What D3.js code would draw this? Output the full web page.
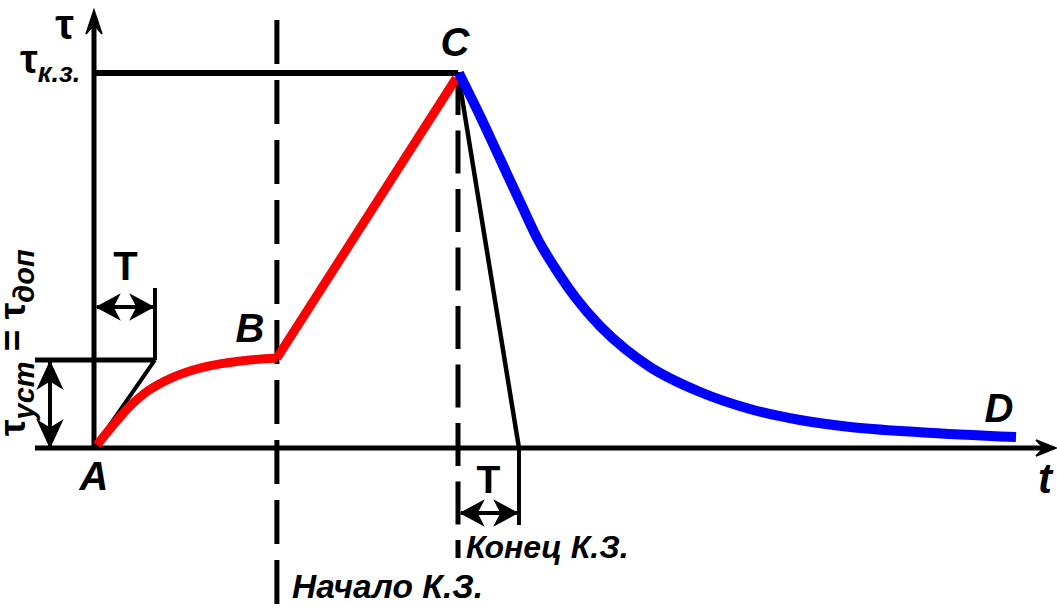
<!DOCTYPE html>
<html>
<head>
<meta charset="utf-8">
<script src="https://cdn.jsdelivr.net/npm/d3@7"></script>
<style>
  html, body { margin: 0; padding: 0; background: #fff; }
  svg { display: block; }
  text { font-family: "Liberation Sans", Arial, sans-serif; fill: #000; }
</style>
</head>
<body>
<svg id="chart" width="1057" height="613"></svg>
<script>
// Temperature of a conductor τ versus time t: steady heating A→B,
// short-circuit heating B→C, cooling after the fault is cleared C→D.
// τ is expressed in units of the steady-state rise τуст.

const tauSteady = 1.0;      // τуст = τдоп
const tauFault = 4.26;      // τк.з.
const tFaultStart = 10.05;  // начало К.З. (point B)
const tFaultEnd = 20;       // конец К.З. (point C)
const timeConst = 3.35;     // T

// A → B : heating up to the steady value
const heatingCurve = [
  [0.16, 0.034], [1.15, 0.284], [1.98, 0.477], [2.80, 0.625], [3.90, 0.761],
  [5.27, 0.875], [6.92, 0.955], [8.57, 1.0], [10.05, 1.023]
];
// B → C : heating during the short circuit
const faultRise = [[10.05, 1.023], [19.9, 4.2]];
// C → D : cooling after the short circuit
const coolingCurve = [
  [20.05, 4.26], [21.21, 3.773], [22.31, 3.284], [23.41, 2.795], [24.40, 2.364],
  [25.33, 2.045], [26.43, 1.716], [27.80, 1.386], [29.18, 1.125], [30.55, 0.92],
  [33.30, 0.636], [36.04, 0.443], [38.79, 0.318], [41.54, 0.239], [45.38, 0.18],
  [50.66, 0.125]
];

const pointLabels = [
  { name: "A", t: 0, tau: 0 },
  { name: "B", t: 10.05, tau: 1.023 },
  { name: "C", t: 20, tau: 4.26 },
  { name: "D", t: 50.66, tau: 0.125 }
];

const svg = d3.select("#chart");
const x = d3.scaleLinear().domain([0, 20]).range([94, 458]);
const y = d3.scaleLinear().domain([0, 4.26]).range([448, 73]);

function line(x1, y1, x2, y2, w, dash) {
  const l = svg.append("line")
    .attr("x1", x1).attr("y1", y1).attr("x2", x2).attr("y2", y2)
    .attr("stroke", "#000").attr("stroke-width", w);
  if (dash) l.attr("stroke-dasharray", dash);
  return l;
}

// filled "stealth" arrowhead pointing along angle (radians) with tip at (tx, ty)
function stealth(tx, ty, angle, L, W, notch) {
  const p = d3.path();
  const c = Math.cos(angle), s = Math.sin(angle);
  const pt = (u, v) => [tx + u * c - v * s, ty + u * s + v * c];
  const a = pt(0, 0), b = pt(-L, -W), n = pt(-L * notch, 0), d = pt(-L, W);
  p.moveTo(a[0], a[1]); p.lineTo(b[0], b[1]); p.lineTo(n[0], n[1]);
  p.lineTo(d[0], d[1]); p.closePath();
  svg.append("path").attr("d", p.toString()).attr("fill", "#000")
    .attr("stroke", "#000").attr("stroke-width", 1.5).attr("stroke-linejoin", "miter");
}

function dimension(x1, y1, x2, y2, L, W) {
  line(x1, y1, x2, y2, 4);
  const ang = Math.atan2(y2 - y1, x2 - x1);
  stealth(x2, y2, ang, L, W, 0.72);
  stealth(x1, y1, ang + Math.PI, L, W, 0.72);
}

// --- dashed markers: start and end of the short circuit
line(x(tFaultStart), 20, x(tFaultStart), 613, 5, "44,16");
line(x(tFaultEnd), y(tauFault) - 1, x(tFaultEnd), 558, 5, "43,15.5");

// --- axes
line(x(0), y(0), x(0), 22, 5);
stealth(x(0), 10, -Math.PI / 2, 24, 8, 0.62);
line(35, y(0), 1046, y(0), 5);
stealth(1056, y(0), 0, 20, 8, 0.62);

// --- reference levels
line(x(0) - 2, y(tauFault), x(tFaultEnd), y(tauFault), 6);
line(35, y(tauSteady), x(timeConst), y(tauSteady), 5);

// --- tangents defining the time constant T
line(x(0), y(0), x(timeConst), y(tauSteady), 4);
line(x(tFaultEnd), y(tauFault), x(tFaultEnd + timeConst), y(0), 4.5);

// --- T extension lines and dimension arrows
line(x(timeConst), y(tauSteady) - 72, x(timeConst), y(tauSteady), 4);
dimension(x(0) + 3, y(tauSteady) - 53, x(timeConst) - 2, y(tauSteady) - 53, 22, 12);
line(x(tFaultEnd + timeConst), y(0), x(tFaultEnd + timeConst), y(0) + 77, 4);
dimension(x(tFaultEnd) + 3, y(0) + 65, x(tFaultEnd + timeConst) - 2, y(0) + 65, 22, 12);

// τуст dimension
dimension(50, y(tauSteady) + 2, 50, y(0) - 1, 26, 12);

// --- temperature curves
const gen = d3.line().x(d => x(d[0])).y(d => y(d[1])).curve(d3.curveMonotoneX);
svg.append("path").attr("d", gen(heatingCurve))
  .attr("fill", "none").attr("stroke", "#ff0000").attr("stroke-width", 9);
svg.append("path").attr("d", d3.line().x(d => x(d[0])).y(d => y(d[1]))(faultRise))
  .attr("fill", "none").attr("stroke", "#ff0000").attr("stroke-width", 9);
svg.append("path").attr("d", gen(coolingCurve))
  .attr("fill", "none").attr("stroke", "#0000ff").attr("stroke-width", 10);

// --- point letters
const letterOffset = { A: [0, 42], B: [-27, -16], C: [-3, -17], D: [-17, -15] };
svg.selectAll("text.pt").data(pointLabels).enter().append("text")
  .attr("class", "pt")
  .attr("x", d => x(d.t) + letterOffset[d.name][0])
  .attr("y", d => y(d.tau) + letterOffset[d.name][1])
  .attr("text-anchor", "middle")
  .attr("font-size", 40).attr("font-weight", "bold").attr("font-style", "italic")
  .text(d => d.name);

// T labels
svg.append("text").attr("x", x(timeConst / 2) + 1).attr("y", y(tauSteady) - 80)
  .attr("text-anchor", "middle").attr("font-size", 40).attr("font-weight", "bold").text("T");
svg.append("text").attr("x", x(tFaultEnd + timeConst / 2)).attr("y", y(0) + 45)
  .attr("text-anchor", "middle").attr("font-size", 39).attr("font-weight", "bold").text("T");

// axis titles
svg.append("text").attr("x", 74).attr("y", 39).attr("text-anchor", "end")
  .attr("font-size", 42).attr("font-weight", "bold").text("τ");
svg.append("text").attr("x", 1045).attr("y", 493).attr("text-anchor", "middle")
  .attr("font-size", 42).attr("font-weight", "bold").attr("font-style", "italic").text("t");

// τк.з. tick label
const tk = svg.append("text").attr("x", 20).attr("y", y(tauFault)).attr("font-weight", "bold");
tk.append("tspan").attr("font-size", 40).text("τ");
tk.append("tspan").attr("font-size", 27).attr("font-style", "italic").attr("dy", 9).text("к.з.");

// rotated τуст = τдоп label
const rl = svg.append("text").attr("transform", "translate(25,436) rotate(-90)")
  .attr("font-weight", "bold");
rl.append("tspan").attr("font-size", 37).text("τ");
rl.append("tspan").attr("font-size", 29).attr("font-style", "italic").attr("dy", 9).text("уст");
rl.append("tspan").attr("font-size", 37).attr("dy", -9).text(" = τ");
rl.append("tspan").attr("font-size", 29).attr("font-style", "italic").attr("dy", 9).text("доп");

// short-circuit annotations
svg.append("text").attr("x", 292).attr("y", 598)
  .attr("font-size", 33.5).attr("font-weight", "bold").attr("font-style", "italic").text("Начало К.З.");
svg.append("text").attr("x", 466).attr("y", 558)
  .attr("font-size", 32).attr("font-weight", "bold").attr("font-style", "italic").text("Конец К.З.");
</script>
</body>
</html>
